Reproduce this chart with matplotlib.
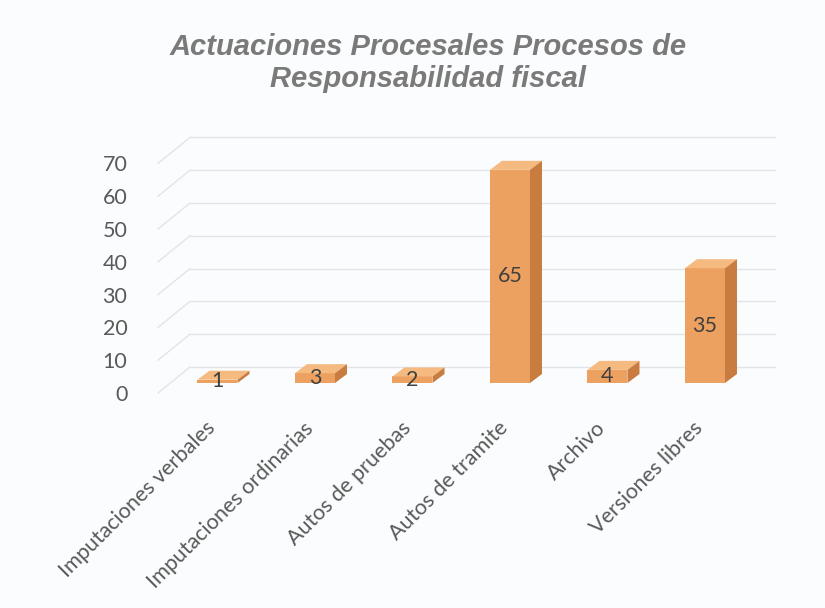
import matplotlib
matplotlib.use("Agg")
import matplotlib.pyplot as plt
from matplotlib.patches import Polygon

categories = ["Imputaciones verbales", "Imputaciones ordinarias", "Autos de pruebas",
              "Autos de tramite", "Archivo", "Versiones libres"]
values = [1, 3, 2, 65, 4, 35]
yticks = [0, 10, 20, 30, 40, 50, 60, 70]
title = "Actuaciones Procesales Procesos de\nResponsabilidad fiscal"

W, H = 825, 608
bg = "#FBFCFD"
fig = plt.figure(figsize=(W / 100, H / 100), dpi=100, facecolor=bg)

# axes = front plane of the 3D box
left_px, right_px, base_px = 158, 743, 393
ymax = 70
ppu_y = 3.28
top_px = base_px - ymax * ppu_y
ax = fig.add_axes([left_px / W, (H - base_px) / H, (right_px - left_px) / W, (base_px - top_px) / H])
ax.set_facecolor("none")
xl, xr = -0.487, 5.513
ax.set_xlim(xl, xr)
ax.set_ylim(0, ymax)
ppu_x = (right_px - left_px) / (xr - xl)

def px_x(p):
    return p / ppu_x

def px_y(p):
    return p / ppu_y

# depth offsets
dxw, dyw = px_x(32), px_y(26)      # back wall
dxb, dyb = px_x(12), px_y(10)      # bar front face
dxd, dyd = px_x(12), px_y(9)       # bar depth
bw = px_x(40)

grid_c = "#E2E4E7"
for v in yticks:
    ax.plot([xl + dxw, xr + dxw], [v + dyw, v + dyw], color=grid_c, lw=1.0, clip_on=False, zorder=1)
    ax.plot([xl, xl + dxw], [v, v + dyw], color=grid_c, lw=1.0, clip_on=False, zorder=1)

front_c = "#EDA160"
top_c = "#F4BA80"
side_c = "#C87C40"
xs = list(range(len(categories)))
ax.bar([x + dxb for x in xs], values, width=bw, bottom=dyb, color=front_c,
       edgecolor="none", zorder=3, clip_on=False)
for x, v in zip(xs, values):
    x0, x1 = x + dxb - bw / 2, x + dxb + bw / 2
    y0, y1 = dyb, dyb + v
    top = Polygon([(x0, y1), (x1, y1), (x1 + dxd, y1 + dyd), (x0 + dxd, y1 + dyd)],
                  closed=True, facecolor=top_c, edgecolor="none", zorder=3, clip_on=False)
    side = Polygon([(x1, y0), (x1 + dxd, y0 + dyd), (x1 + dxd, y1 + dyd), (x1, y1)],
                   closed=True, facecolor=side_c, edgecolor="none", zorder=3, clip_on=False)
    ax.add_patch(top)
    ax.add_patch(side)
    ax.text(x + dxb, dyb + v / 2, str(v), ha="center", va="center", fontsize=15.5,
            family="Lato", color="#404040", zorder=5, clip_on=False)

for s in ax.spines.values():
    s.set_visible(False)
ax.set_yticks(yticks)
ax.set_yticklabels([str(t) for t in yticks], family="Lato", fontsize=15.5, color="#595959")
ax.tick_params(axis="y", length=0, pad=22)
ax.set_xticks(xs)
ax.set_xticklabels(categories, rotation=45, ha="right", rotation_mode="anchor",
                   family="Lato", fontsize=15.5, color="#595959")
ax.tick_params(axis="x", length=0, pad=18)

fig.text(428 / W, 1 - 63 / H, title, ha="center", va="center", fontsize=21,
         family="Liberation Sans", fontweight="bold", fontstyle="italic",
         color="#7A7A7A", linespacing=1.16)

fig.savefig("out.png", dpi=100, facecolor=bg)
